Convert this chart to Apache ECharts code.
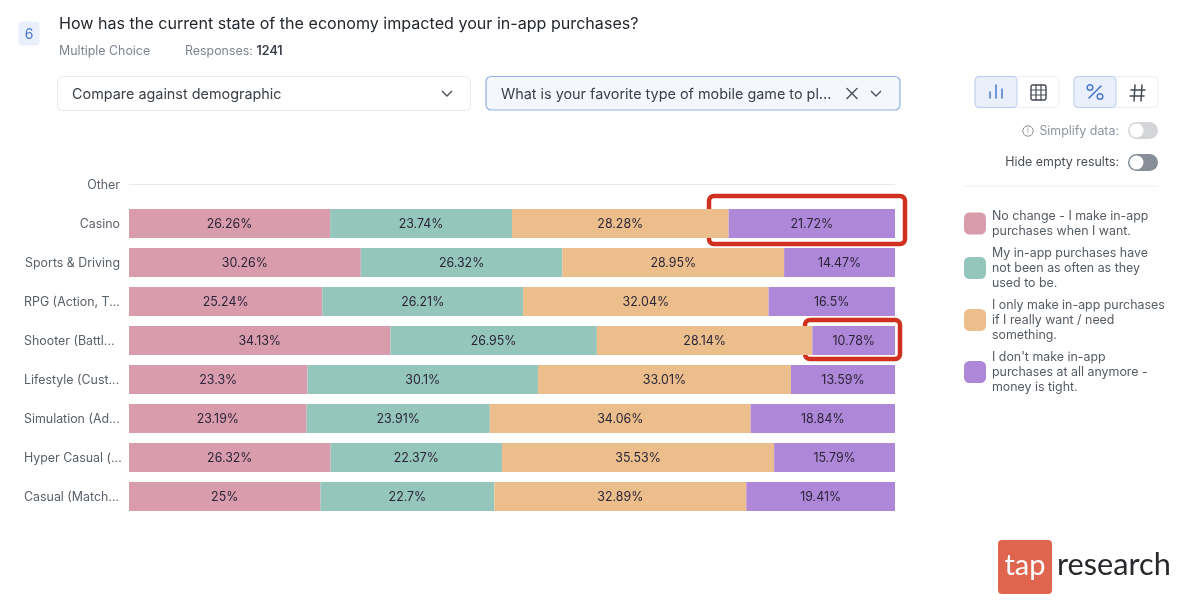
<!DOCTYPE html>
<html><head><meta charset="utf-8">
<style>html,body{margin:0;padding:0;background:#fff}#c{width:1200px;height:613px}</style>
<script src="https://cdn.jsdelivr.net/npm/echarts@6/dist/echarts.min.js"></script>
</head><body><div id="c"></div>
<script>
const categories=["Other","Casino","Sports & Driving","RPG (Action, T...","Shooter (Battl...","Lifestyle (Cust...","Simulation (Ad...","Hyper Casual (...","Casual (Match..."];
const noChange=[null,26.26,30.26,25.24,34.13,23.3,23.19,26.32,25];
const lessOften=[null,23.74,26.32,26.21,26.95,30.1,23.91,22.37,22.7];
const onlyIfNeed=[null,28.28,28.95,32.04,28.14,33.01,34.06,35.53,32.89];
const notAnymore=[null,21.72,14.47,16.5,10.78,13.59,18.84,15.79,19.41];
const seriesNames=["No change - I make in-app purchases when I want.","My in-app purchases have not been as often as they used to be.","I only make in-app purchases if I really want / need something.","I don't make in-app purchases at all anymore - money is tight."];
const legendLines=["No change - I make in-app\npurchases when I want.","My in-app purchases have\nnot been as often as they\nused to be.","I only make in-app purchases\nif I really want / need\nsomething.","I don't make in-app\npurchases at all anymore -\nmoney is tight."];
const colors=["#D99CAD","#95C6BC","#EBBE8C","#AE87D8"];
const seriesValues=[noChange,lessOften,onlyIfNeed,notAnymore];
const F="Inter, 'Noto Sans', sans-serif";

function T(x,y,text,size,fill,extra){return {type:'text',x,y,silent:true,style:Object.assign({text,font:`${(extra&&extra.weight)||400} ${size}px ${(extra&&extra.family)||F}`,fill,textVerticalAlign:'middle',textAlign:(extra&&extra.align)||'left'})};}
function R(x,y,w,h,r,fill,stroke,lw){return {type:'rect',silent:true,shape:{x,y,width:w,height:h,r},style:{fill:fill||'transparent',stroke:stroke||null,lineWidth:lw||1}};}
function L(x1,y1,x2,y2,stroke,lw){return {type:'line',silent:true,shape:{x1,y1,x2,y2},style:{stroke,lineWidth:lw||1.5,lineCap:'round'}};}
function chevron(cx,cy,c){return {type:'polyline',silent:true,shape:{points:[[cx-5,cy-2.5],[cx,cy+2.5],[cx+5,cy-2.5]]},style:{stroke:c,lineWidth:1.4,fill:'transparent'}};}

const blue='#4A78D0',dark='#3B4048';
const ui=[
 R(18.5,21.5,21,24,4,'#E9EFFB'),
 T(29,34.5,'6',14,blue,{align:'center'}),
 T(59,24,'How has the current state of the economy impacted your in-app purchases?',16.1,'#23272E'),
 T(59,51.5,'Multiple Choice',12.4,'#7E858F'),
 T(185,51.5,'Responses: ',12.4,'#7E858F'),
 T(256.5,51.5,'1241',12.5,'#3B4048',{weight:600}),
 R(57.5,76.5,413,34,5,'#fff','#E8EAED',1),
 T(72,95,'Compare against demographic',14.4,dark),
 chevron(447,93.5,'#4B5058'),
 R(486,76.5,414,33.5,5,'#F4F8FE','#8FAFE3',1.2),
 T(501,95,'What is your favorite type of mobile game to pl...',14.4,dark),
 L(847,88.5,857,98.5,'#4B5058',1.4), L(857,88.5,847,98.5,'#4B5058',1.4),
 chevron(876,93.5,'#4B5058'),
 R(975,76.5,84,31,4,'#fff','#ECEEF1',1),
 R(975,76.5,42,31,4,'#E9F0FB','#B9CEF0',1),
 L(990,98,990,92,blue,1.5), L(996,98,996,85,blue,1.5), L(1002,98,1002,89,blue,1.5),
 R(1031,85,15,15,2,'transparent','#444A52',1.4),
 L(1031,90,1046,90,'#444A52',1.2), L(1031,95,1046,95,'#444A52',1.2),
 L(1036,85,1036,100,'#444A52',1.2), L(1041,85,1041,100,'#444A52',1.2),
 R(1074,76.5,84,31,4,'#fff','#ECEEF1',1),
 R(1074,76.5,42,31,4,'#E9F0FB','#B9CEF0',1),
 L(1089,98,1101,86,blue,1.6),
 {type:'circle',silent:true,shape:{cx:1090,cy:87.5,r:2.8},style:{fill:'transparent',stroke:blue,lineWidth:1.5}},
 {type:'circle',silent:true,shape:{cx:1100,cy:96.5,r:2.8},style:{fill:'transparent',stroke:blue,lineWidth:1.5}},
 L(1131,90,1145,90,'#444A52',1.5), L(1130,96,1144,96,'#444A52',1.5),
 L(1135,85,1134,101,'#444A52',1.5), L(1142,85,1141,101,'#444A52',1.5),
 {type:'circle',silent:true,shape:{cx:1028,cy:131,r:5.2},style:{fill:'transparent',stroke:'#8A9099',lineWidth:1}},
 T(1028,131,'i',7.5,'#8A9099',{align:'center'}),
 T(1119,131,'Simplify data:',12.4,'#8F959E',{align:'right'}),
 R(1128,122,30,17,8.5,'#D3D5D8'),
 {type:'circle',silent:true,shape:{cx:1136.5,cy:130.5,r:7},style:{fill:'#fff'}},
 T(1119,162.5,'Hide empty results:',12.4,'#4A4F57',{align:'right'}),
 R(1128,154,30,17,8.5,'#878E98'),
 {type:'circle',silent:true,shape:{cx:1136.5,cy:162.5,r:7},style:{fill:'#fff'}},
 L(964,186,1158,186,'#ECEEF0',1),
 R(709,196,196,48,5,'transparent','#D0301F',4.5),
 R(805,320,95,39,5,'transparent','#D0301F',4.5),
 R(998,540,54,54,4,'#E0654F'),
 T(1025,566,'tap',29,'#fff',{align:'center',weight:400,family:'Lato, sans-serif'}),
 T(1057,565,'research',30.7,'#26282B',{family:'Lato, sans-serif'})
];

const series=seriesValues.map((vals,i)=>({
  name:seriesNames[i],type:'bar',stack:'total',barWidth:29,data:vals,
  itemStyle:{color:colors[i]},
  label:{show:true,position:'inside',offset:[0,1],color:'#2B2438',fontFamily:F,fontSize:12.4,formatter:p=>p.value+'%'},
  silent:true,
  markLine:i===0?{silent:true,symbol:'none',label:{show:false},lineStyle:{color:'#E6E8EA',width:1,type:'solid'},data:[{yAxis:'Other'}]}:undefined
}));

const chart=echarts.init(document.getElementById('c'),null,{renderer:'canvas'});
chart.setOption({
  animation:false,backgroundColor:'#fff',
  grid:{left:129,right:305,top:165,height:351,containLabel:false},
  xAxis:{type:'value',min:0,max:100,show:false},
  yAxis:{type:'category',inverse:true,data:categories,axisLine:{show:false},axisTick:{show:false},
    axisLabel:{margin:9,color:'#5A6069',fontFamily:F,fontSize:12.4,padding:[2,0,0,0],
      formatter:v=>v.endsWith('...')?`{t|${v}}`:v,
      rich:{t:{width:96,align:'left',color:'#5A6069',fontFamily:F,fontSize:12.4}}}},
  legend:{orient:'vertical',left:964,top:207,padding:0,itemWidth:22,itemHeight:22,itemGap:4,icon:'roundRect',selectedMode:false,
    data:seriesNames,
    formatter:n=>legendLines[seriesNames.indexOf(n)],
    textStyle:{color:'#555B63',fontFamily:F,fontSize:12.4,lineHeight:15,padding:[3,0,0,1]}},
  series,
  graphic:{elements:ui}
});
</script></body></html>
